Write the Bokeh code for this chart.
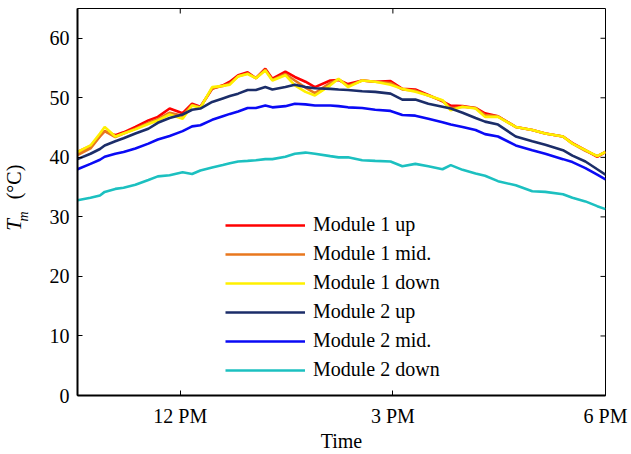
import math
from bokeh.plotting import figure
from bokeh.layouts import row
from bokeh.models import Range1d, FixedTicker, Legend, LegendItem, Label
from bokeh.embed import file_html
from bokeh.resources import INLINE

# ---- data ----
times = ["10:33", "10:44", "10:52", "10:56", "11:05", "11:12", "11:22", "11:33",
         "11:41", "11:51", "12:02", "12:10", "12:17", "12:27", "12:36", "12:42",
         "12:49", "12:57", "13:04", "13:12", "13:18", "13:29", "13:37", "13:46",
         "13:54", "14:07", "14:14", "14:22", "14:34", "14:45", "14:58", "15:08",
         "15:19", "15:30", "15:42", "15:49", "15:59", "16:10", "16:18", "16:29",
         "16:44", "16:58", "17:09", "17:24", "17:32", "17:43", "17:53", "18:00"]

module1_up = [40.9, 41.9, 43.6, 44.4, 43.7, 44.2, 45.1, 46.2, 46.8, 48.2, 47.4, 49.0,
              48.5, 51.5, 52.1, 52.7, 53.8, 54.3, 53.3, 54.9, 53.2, 54.4, 53.5, 52.7,
              51.8, 52.9, 53.0, 52.3, 52.9, 52.7, 52.8, 51.5, 51.4, 50.5, 49.4, 48.7,
              48.6, 48.3, 47.4, 46.9, 45.1, 44.6, 44.0, 43.5, 42.4, 41.2, 40.1, 40.9]
module1_mid = [40.4, 41.5, 43.5, 44.4, 43.4, 44.0, 44.8, 45.8, 46.4, 47.5, 47.0, 48.8,
               48.4, 51.6, 52.0, 52.4, 53.6, 54.1, 53.3, 54.7, 53.0, 54.0, 52.9, 51.7,
               50.8, 52.5, 53.1, 52.0, 52.9, 52.7, 52.5, 51.4, 51.2, 50.4, 49.5, 48.2,
               48.5, 48.3, 47.1, 46.9, 45.1, 44.6, 44.0, 43.5, 42.3, 41.1, 40.2, 40.9]
module1_down = [40.9, 42.0, 44.0, 45.1, 43.5, 44.0, 44.7, 45.6, 46.2, 47.2, 46.5, 48.7,
                48.3, 51.8, 52.0, 52.2, 53.6, 54.0, 53.3, 54.6, 52.9, 53.8, 52.1, 51.0,
                50.4, 52.1, 53.2, 51.8, 52.9, 52.7, 52.2, 51.5, 51.0, 50.4, 49.6, 47.9,
                48.5, 48.2, 46.8, 46.8, 45.1, 44.6, 44.0, 43.5, 42.3, 41.2, 40.2, 40.9]
module2_up = [39.7, 40.6, 41.4, 42.0, 42.7, 43.2, 44.0, 44.8, 45.8, 46.6, 47.2, 48.0,
              48.2, 49.3, 49.9, 50.3, 50.7, 51.3, 51.3, 51.8, 51.4, 51.8, 52.2, 51.8,
              51.6, 51.5, 51.4, 51.3, 51.1, 51.0, 50.7, 49.7, 49.7, 49.0, 48.5, 48.2,
              47.5, 46.6, 46.0, 45.5, 43.5, 42.7, 42.1, 41.2, 40.3, 39.3, 38.0, 37.1]
module2_mid = [38.0, 38.9, 39.6, 40.1, 40.6, 40.9, 41.5, 42.3, 43.0, 43.6, 44.4, 45.2,
               45.4, 46.3, 46.9, 47.3, 47.7, 48.3, 48.3, 48.7, 48.4, 48.6, 49.0, 48.9,
               48.7, 48.7, 48.6, 48.4, 48.3, 48.0, 47.8, 47.1, 47.0, 46.5, 45.9, 45.5,
               45.1, 44.6, 43.9, 43.5, 42.0, 41.2, 40.6, 39.7, 39.2, 38.2, 37.1, 36.3]
module2_down = [32.8, 33.2, 33.6, 34.2, 34.7, 34.9, 35.4, 36.2, 36.8, 37.0, 37.5, 37.2,
                37.8, 38.3, 38.7, 39.0, 39.3, 39.4, 39.5, 39.7, 39.7, 40.1, 40.6, 40.8,
                40.6, 40.2, 40.0, 40.0, 39.5, 39.4, 39.3, 38.5, 38.9, 38.5, 38.0, 38.7,
                37.9, 37.3, 36.9, 36.0, 35.3, 34.3, 34.2, 33.8, 33.2, 32.6, 31.8, 31.3]

series_names = ["Module 1 up", "Module 1 mid.", "Module 1 down",
                "Module 2 up", "Module 2 mid.", "Module 2 down"]
series_values = [module1_up, module1_mid, module1_down,
                 module2_up, module2_mid, module2_down]
series_colors = ["#FF0000", "#E8771E", "#FFF000", "#1B2D69", "#0A0AF5", "#1CC0C0"]

x_ticks = [12, 15, 18]
x_tick_labels = ["12 PM", "3 PM", "6 PM"]
y_ticks = [0, 10, 20, 30, 40, 50, 60]

hours = [int(t[:2]) + int(t[3:]) / 60.0 for t in times]

FONT = "Liberation Serif"
FS = "20px"

W, H = 631, 454
LW = 40                      # width of the strip holding the y-axis title
BL, BR, BT, BB = 77 - LW, 26, 8, 58
X0, X1, Y0, Y1 = 10.55, 18.0, 0.0, 65.0
YSHIFT = 24                  # empirical vertical correction of the title strip

# ---- strip with the rotated y-axis title ----
lab = figure(width=LW, height=H, output_backend="svg", toolbar_location=None,
             x_range=Range1d(0, LW), y_range=Range1d(0, H),
             x_axis_location=None, y_axis_location=None,
             min_border=0, min_border_left=0, min_border_right=0,
             min_border_top=0, min_border_bottom=0)
lab.outline_line_color = None
lab.xgrid.visible = False
lab.ygrid.visible = False
lab.background_fill_color = "white"
lab.border_fill_color = "white"
lab.add_layout(Label(x=13.5, y=H - 230 - YSHIFT, text="T", angle=math.pi / 2,
                     text_align="center", text_baseline="middle", text_font=FONT,
                     text_font_size="21px", text_font_style="italic",
                     text_color="black"))
lab.add_layout(Label(x=23, y=H - 220 - YSHIFT, text="m", angle=math.pi / 2,
                     text_align="center", text_baseline="middle", text_font=FONT,
                     text_font_size="14px", text_font_style="italic",
                     text_color="black"))
lab.add_layout(Label(x=13.5, y=H - 179.5 - YSHIFT, text="(°C)", angle=math.pi / 2,
                     text_align="center", text_baseline="middle", text_font=FONT,
                     text_font_size=FS, text_color="black"))

# ---- main chart ----
p = figure(width=W - LW, height=H, output_backend="svg", toolbar_location=None,
           x_range=Range1d(X0, X1), y_range=Range1d(Y0, Y1),
           min_border_left=BL, min_border_right=BR, min_border_top=BT,
           min_border_bottom=BB)
p.background_fill_color = "white"
p.border_fill_color = "white"
p.outline_line_color = "black"
p.outline_line_width = 1
p.xgrid.visible = False
p.ygrid.visible = False

items = []
for name, vals, col in zip(series_names, series_values, series_colors):
    r = p.line(hours, vals, line_color=col, line_width=2.6)
    items.append(LegendItem(label=name, renderers=[r]))

xa = p.xaxis[0]
xa.ticker = FixedTicker(ticks=x_ticks)
xa.major_label_overrides = {t: l for t, l in zip(x_ticks, x_tick_labels)}
xa.axis_label = "Time"
ya = p.yaxis[0]
ya.ticker = FixedTicker(ticks=y_ticks)
for ax in (xa, ya):
    ax.axis_line_width = 2
    ax.axis_line_color = "black"
    ax.major_tick_in = 5
    ax.major_tick_out = 0
    ax.minor_tick_in = 0
    ax.minor_tick_out = 0
    ax.major_tick_line_color = "black"
    ax.major_label_text_font = FONT
    ax.major_label_text_font_size = FS
    ax.major_label_text_color = "black"
    ax.axis_label_text_font = FONT
    ax.axis_label_text_font_size = FS
    ax.axis_label_text_font_style = "normal"
    ax.axis_label_text_color = "black"
xa.major_label_standoff = 9
xa.axis_label_standoff = 0
ya.major_label_standoff = 8

# inward ticks on the top and right edges
p.ray(x=x_ticks[:2], y=[Y1] * 2, length=5, length_units="screen",
      angle=-math.pi / 2, line_color="black", line_width=1)
p.ray(x=[X1] * len(y_ticks), y=y_ticks, length=5, length_units="screen",
      angle=math.pi, line_color="black", line_width=1)

legend = Legend(items=items, location=(148, 14))
legend.label_text_font = FONT
legend.label_text_font_size = FS
legend.label_text_color = "black"
legend.glyph_width = 80
legend.glyph_height = 22
legend.label_height = 22
legend.label_standoff = 8
legend.spacing = 6
legend.padding = 0
legend.margin = 0
legend.border_line_alpha = 0
legend.background_fill_alpha = 0
p.add_layout(legend)

layout = row(lab, p, spacing=0)
open("out.html", "w").write(file_html(layout, INLINE))
